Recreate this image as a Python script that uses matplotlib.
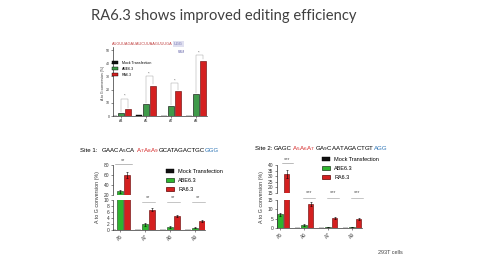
import matplotlib
matplotlib.use("Agg")
import matplotlib.pyplot as plt
import numpy as np
from matplotlib.patches import Patch

plt.rcParams['font.family'] = ['Liberation Sans', 'DejaVu Sans']

W, H = 480, 270
# ---------------- data ----------------
series = ["Mock Transfection", "ABE6.3", "RA6.3"]

top_cats = ["A4", "A5", "A7", "A8"]
top_mock = [0.3, 0.4, 0.0, 0.0]
top_abe = [2, 9, 7.5, 16.5]
top_ra = [5, 23, 19, 42]
top_sig = [13, 30, 25, 46]

s1_cats = ["A5", "A7", "A8", "A9"]
s1_mock = [0.05, 0.05, 0.05, 0.05]
s1_abe = [28, 1.9, 1.1, 0.8]
s1_ra = [61, 6.7, 4.7, 3.1]
s1_abe_err = [3, 0.5, 0.4, 0.2]
s1_ra_err = [6, 0.5, 0.4, 0.4]

s2_cats = ["A5", "A6", "A7", "A9"]
s2_mock = [0.05, 0.05, 0.05, 0.05]
s2_abe = [7.3, 1.6, 0.6, 0.4]
s2_ra = [32, 12.7, 5.2, 4.6]
s2_abe_err = [1.0, 0.5, 0.2, 0.1]
s2_ra_err = [3.5, 1.0, 0.5, 0.5]

C_MOCK = "#111111"
C_ABE = "#2fb52f"
C_ABE_TOP = "#3f9a4a"
C_RA = "#d42020"
C_BLUE = "#2e75b6"
GRAY = "#555555"

fig = plt.figure(figsize=(4.8, 2.7), dpi=100)
fig.patch.set_facecolor("white")


def add_ax(x0, y0, x1, y1):
    return fig.add_axes([x0 / W, 1 - y1 / H, (x1 - x0) / W, (y1 - y0) / H])


def style(ax, fs=3.5):
    for s in ["top", "right"]:
        ax.spines[s].set_visible(False)
    for s in ["left", "bottom"]:
        ax.spines[s].set_linewidth(0.5)
        ax.spines[s].set_color("#333333")
    ax.tick_params(labelsize=fs, length=1.5, width=0.4, pad=1, colors="#333333")
    ax.set_facecolor("none")


renderer = fig.canvas.get_renderer()


def rainbow(x, y, pieces, **kw):
    x = x / W
    for s, c in pieces:
        t = fig.text(x, 1 - y / H, s, color=c, va="baseline", ha="left", **kw)
        bb = t.get_window_extent(renderer=renderer)
        x = bb.x1 / fig.bbox.width


# ---------------- title ----------------
fig.text(224 / W, 1 - 16 / H, "RA6.3 shows improved editing efficiency",
         ha="center", va="center", fontsize=10.6, color="#404040", family="Lato")

# ---------------- top chart ----------------
ax = add_ax(113, 47.4, 207, 116)
style(ax, 2.5)
x = np.arange(len(top_cats))
bw, off = 0.22, 0.28
ax.bar(x - off, top_mock, bw, color=C_MOCK, edgecolor="black", lw=0.3)
ax.bar(x, top_abe, bw, color=C_ABE_TOP, edgecolor="black", lw=0.4)
ax.bar(x + off, top_ra, bw, color=C_RA, edgecolor="#600000", lw=0.4)
ax.set_xlim(-0.31, 3.45)
ax.set_ylim(0, 52)
ax.set_yticks([0, 10, 20, 30, 40, 50])
ax.set_xticks(x)
ax.set_xticklabels(top_cats)
for i in range(len(top_cats)):
    h = top_sig[i]
    ax.plot([x[i], x[i], x[i] + off, x[i] + off],
            [top_abe[i] + 1, h, h, top_ra[i] + 1], color="#999999", lw=0.3)
    ax.text(x[i] + off / 2, h + 0.5, "*", ha="center", va="bottom", fontsize=3, color=GRAY)
fig.text(103 / W, 1 - 83 / H, "A to G conversion (%)", rotation=90, fontsize=2.5,
         ha="center", va="center", color="#333333")
handles = [Patch(fc=C_MOCK, ec="black", lw=0.3), Patch(fc=C_ABE_TOP, ec="black", lw=0.3),
           Patch(fc=C_RA, ec="black", lw=0.3)]
fig.legend(handles, series, loc="upper left", bbox_to_anchor=(112 / W, 1 - 61 / H),
           frameon=False, fontsize=2.6, handlelength=1.6, handleheight=0.8,
           labelspacing=0.5, borderpad=0, borderaxespad=0, handletextpad=1.2)
fig.text(112 / W, 1 - 44 / H, "AUGUUAGAUAUCUUAAGUUUGA", fontsize=2.8, color="#c04040",
         va="center", ha="left")
fig.text(174 / W, 1 - 44 / H, "UGG", fontsize=2.8, color="#7070b0", va="center", ha="left",
         bbox=dict(fc="#e0e0f0", ec="none", pad=0.6))
fig.text(181 / W, 1 - 52 / H, "PAM", fontsize=2.5, color="#7070b0", va="center", ha="center")

# ---------------- site 1 ----------------
rainbow(80, 152, [("Site 1:  ", "black"), ("GAACA$_5$CA", "black"),
                  ("A$_7$A$_8$A$_9$", C_RA), ("GCATAGACTGC", "black"), ("GGG", C_BLUE)],
        fontsize=4.4)

x = np.arange(len(s1_cats))
lo = add_ax(113, 200, 205, 230)
up = add_ax(113, 165, 205, 195)
for a in (lo, up):
    style(a, 3.5)
    a.bar(x - off, s1_mock, bw, color=C_MOCK, edgecolor="black", lw=0.3)
    a.bar(x, s1_abe, bw, color=C_ABE, edgecolor="#1a3a1a", lw=0.4, yerr=s1_abe_err,
          error_kw=dict(lw=0.4, capsize=0.8, capthick=0.4, ecolor="black"))
    a.bar(x + off, s1_ra, bw, color=C_RA, edgecolor="#600000", lw=0.4, yerr=s1_ra_err,
          error_kw=dict(lw=0.4, capsize=0.8, capthick=0.4, ecolor="black"))
    a.set_xlim(-0.28, 3.4)
lo.set_ylim(0, 10)
lo.set_yticks([0, 2, 4, 6, 8, 10])
up.set_ylim(20, 80)
up.set_yticks([20, 40, 60, 80])
up.spines["bottom"].set_visible(False)
up.set_xticks([])
lo.set_xticks(x)
lo.set_xticklabels(s1_cats, rotation=45, ha="right", rotation_mode="anchor")
up.plot([-0.2, 0.47], [82, 82], color="#888888", lw=0.4, clip_on=False)
up.text(0.13, 84, "**", ha="center", va="bottom", fontsize=4, color=GRAY, clip_on=False)
for i in range(1, 4):
    lo.plot([x[i] - 0.13, x[i] + 0.4], [9.4, 9.4], color="#999999", lw=0.4, clip_on=False)
    lo.text(x[i] + 0.13, 9.9, "**", ha="center", va="bottom", fontsize=4, color=GRAY,
            clip_on=False)
fig.text(97 / W, 1 - 197 / H, "A to G conversion (%)", rotation=90, fontsize=3.8,
         ha="center", va="center", color="#333333")
handles = [Patch(fc=C_MOCK, ec="black", lw=0.3), Patch(fc=C_ABE, ec="#1a3a1a", lw=0.5),
           Patch(fc=C_RA, ec="#600000", lw=0.5)]
fig.legend(handles, series, loc="upper left", bbox_to_anchor=(166 / W, 1 - 169 / H),
           frameon=False, fontsize=4, handlelength=1.4, handleheight=0.7,
           labelspacing=0.75, borderpad=0, borderaxespad=0, handletextpad=0.8)

# ---------------- site 2 ----------------
rainbow(255, 150, [("Site 2: ", "black"), ("GAGC", "black"),
                   ("A$_5$A$_6$A$_7$", C_RA), ("GA$_9$CAATAGACTGT", "black"), ("AGG", C_BLUE)],
        fontsize=4.4)

x = np.arange(len(s2_cats))
lo = add_ax(277, 200, 362, 228)
up = add_ax(277, 165, 362, 193)
for a in (lo, up):
    style(a, 3.5)
    a.bar(x - off, s2_mock, bw, color=C_MOCK, edgecolor="black", lw=0.3)
    a.bar(x, s2_abe, bw, color=C_ABE, edgecolor="#1a3a1a", lw=0.4, yerr=s2_abe_err,
          error_kw=dict(lw=0.4, capsize=0.8, capthick=0.4, ecolor="black"))
    a.bar(x + off, s2_ra, bw, color=C_RA, edgecolor="#600000", lw=0.4, yerr=s2_ra_err,
          error_kw=dict(lw=0.4, capsize=0.8, capthick=0.4, ecolor="black"))
    a.set_xlim(-0.125, 3.42)
lo.set_ylim(0, 15)
lo.set_yticks([0, 5, 10, 15])
up.set_ylim(15, 40)
up.set_yticks([15, 20, 25, 30, 35, 40])
up.spines["bottom"].set_visible(False)
up.set_xticks([])
lo.set_xticks(x)
lo.set_xticklabels(s2_cats, rotation=45, ha="right", rotation_mode="anchor")
up.plot([0.08, 0.54], [41.5, 41.5], color="#888888", lw=0.4, clip_on=False)
up.text(0.3, 42.5, "***", ha="center", va="bottom", fontsize=4, color=GRAY, clip_on=False)
for i in range(1, 4):
    lo.plot([x[i] - 0.04, x[i] + 0.46], [16, 16], color="#999999", lw=0.4, clip_on=False)
    lo.text(x[i] + 0.21, 17.5, "***", ha="center", va="bottom", fontsize=4, color=GRAY,
            clip_on=False)
fig.text(261 / W, 1 - 197 / H, "A to G conversion (%)", rotation=90, fontsize=3.8,
         ha="center", va="center", color="#333333")
fig.legend(handles, series, loc="upper left", bbox_to_anchor=(322 / W, 1 - 157 / H),
           frameon=False, fontsize=4, handlelength=1.4, handleheight=0.7,
           labelspacing=0.75, borderpad=0, borderaxespad=0, handletextpad=0.8)

fig.text(378 / W, 1 - 253 / H, "293T cells", fontsize=4, color="#444444", va="center")

fig.savefig("out.png", dpi=100, facecolor="white")
